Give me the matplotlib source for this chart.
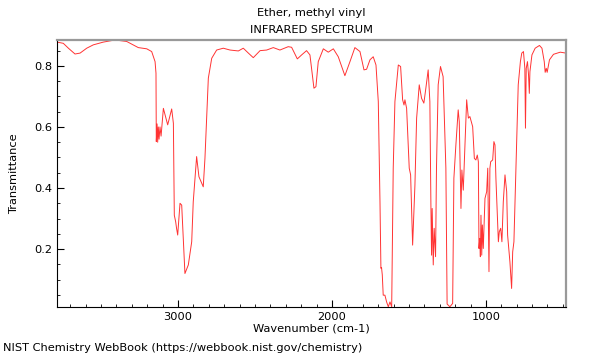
import numpy as np
import matplotlib
matplotlib.use("Agg")
import matplotlib.pyplot as plt
from matplotlib.ticker import MultipleLocator

# Spectrum (wavenumber in cm-1, transmittance)
wavenumber = [
    3786, 3745, 3712, 3669, 3636, 3593, 3550, 3485, 3409, 3333, 3258, 3203,
    3171, 3149, 3143, 3141, 3136, 3132, 3128, 3123, 3117, 3110, 3095, 3067,
    3041, 3030, 3024, 3015, 3010, 3002, 2987, 2976, 2955, 2933, 2911, 2901,
    2879, 2864, 2836, 2825, 2803, 2781, 2749, 2706, 2662, 2608, 2576, 2543,
    2511, 2467, 2424, 2381, 2338, 2284, 2262, 2225, 2197, 2165, 2143, 2117,
    2104, 2089, 2056, 2024, 1991, 1959, 1916, 1883, 1851, 1818, 1792, 1775,
    1753, 1732, 1714, 1699, 1688, 1682, 1678, 1673, 1667, 1656, 1645, 1634,
    1623, 1612, 1602, 1591, 1569, 1554, 1541, 1532, 1526, 1515, 1498, 1489,
    1476, 1461, 1450, 1433, 1418, 1403, 1390, 1375, 1364, 1357, 1353, 1349,
    1342, 1336, 1327, 1321, 1310, 1295, 1278, 1260, 1252, 1234, 1216, 1208,
    1195, 1180, 1173, 1162, 1156, 1147, 1136, 1125, 1114, 1104, 1086, 1075,
    1065, 1056, 1049, 1045, 1040, 1036, 1032, 1027, 1023, 1017, 1006, 995,
    988, 980, 974, 969, 956, 948, 941, 935, 919, 913, 904, 896, 887, 876,
    865, 859, 844, 833, 826, 818, 805, 790, 776, 767, 756, 747, 743, 738,
    730, 723, 718, 714, 701, 680, 652, 636, 621, 615, 608, 602, 587, 561,
    517, 481,
]
transmittance = [
    0.878, 0.874, 0.858, 0.839, 0.842, 0.858, 0.869, 0.878, 0.885, 0.880, 0.860, 0.856,
    0.847, 0.814, 0.776, 0.552, 0.610, 0.550, 0.600, 0.560, 0.600, 0.570, 0.661, 0.607,
    0.659, 0.612, 0.311, 0.289, 0.270, 0.246, 0.350, 0.344, 0.120, 0.148, 0.224, 0.355,
    0.503, 0.437, 0.404, 0.497, 0.760, 0.825, 0.852, 0.858, 0.852, 0.849, 0.858, 0.842,
    0.827, 0.850, 0.852, 0.860, 0.852, 0.863, 0.861, 0.823, 0.836, 0.850, 0.836, 0.727,
    0.732, 0.814, 0.856, 0.845, 0.856, 0.830, 0.768, 0.814, 0.860, 0.847, 0.787, 0.789,
    0.820, 0.830, 0.803, 0.683, 0.355, 0.137, 0.140, 0.115, 0.049, 0.049, 0.027, 0.011,
    0.027, 0.011, 0.465, 0.683, 0.803, 0.798, 0.689, 0.672, 0.689, 0.661, 0.465, 0.443,
    0.213, 0.410, 0.629, 0.738, 0.694, 0.678, 0.727, 0.787, 0.683, 0.333, 0.180, 0.333,
    0.148, 0.268, 0.175, 0.465, 0.738, 0.798, 0.765, 0.465, 0.020, 0.011, 0.022, 0.432,
    0.541, 0.656, 0.617, 0.333, 0.459, 0.393, 0.541, 0.689, 0.629, 0.634, 0.601, 0.497,
    0.492, 0.508, 0.486, 0.202, 0.235, 0.175, 0.311, 0.180, 0.279, 0.202, 0.366, 0.388,
    0.465, 0.126, 0.465, 0.486, 0.492, 0.552, 0.541, 0.432, 0.224, 0.257, 0.268, 0.224,
    0.355, 0.443, 0.388, 0.246, 0.158, 0.071, 0.191, 0.224, 0.465, 0.738, 0.814, 0.842,
    0.847, 0.792, 0.596, 0.792, 0.814, 0.770, 0.710, 0.781, 0.836, 0.858, 0.867, 0.858,
    0.814, 0.779, 0.792, 0.779, 0.820, 0.838, 0.845, 0.842,
]

fs = 8.2

fig = plt.figure(figsize=(6, 3.6), dpi=100)
ax = fig.add_axes([0.095, 0.147, 0.848, 0.742])

ax.plot(wavenumber, transmittance, color="#ff0000", lw=0.7, alpha=0.8)

ax.set_xlim(3786, 481)
ax.set_ylim(0.01, 0.885)
ax.xaxis.set_major_locator(MultipleLocator(1000))
ax.xaxis.set_minor_locator(MultipleLocator(100))
ax.yaxis.set_major_locator(MultipleLocator(0.2))
ax.yaxis.set_minor_locator(MultipleLocator(0.05))
ax.tick_params(which="both", direction="in", labelsize=fs)
ax.tick_params(which="major", length=5)
ax.tick_params(which="minor", length=2.5)

for side in ("top", "right"):
    ax.spines[side].set_color("#999999")
    ax.spines[side].set_linewidth(1.6)

ax.set_xlabel("Wavenumber (cm-1)", fontsize=fs, labelpad=1)
ax.set_ylabel("Transmittance", fontsize=fs, labelpad=11)

fig.text(0.519, 0.965, "Ether, methyl vinyl", ha="center", va="center", fontsize=fs)
fig.text(0.519, 0.918, "INFRARED SPECTRUM", ha="center", va="center", fontsize=fs)
fig.text(0.005, 0.02, "NIST Chemistry WebBook (https://webbook.nist.gov/chemistry)",
         ha="left", va="bottom", fontsize=fs)

fig.savefig("out.png", dpi=100)
